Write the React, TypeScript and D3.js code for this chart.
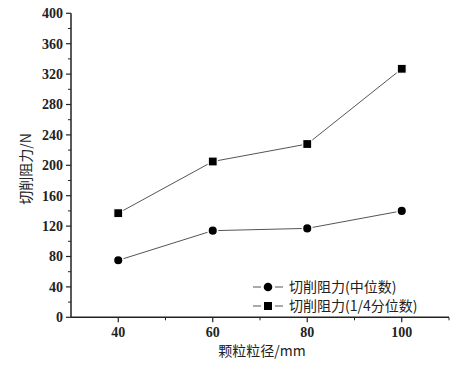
import React from "react";
import * as d3 from "d3";

const particleSizes = [40, 60, 80, 100];
const medianForce = [75, 114, 117, 140];
const quarterForce = [137, 205, 228, 327];
const yTicks = [0, 40, 80, 120, 160, 200, 240, 280, 320, 360, 400];
const xTicks = [40, 60, 80, 100];
const seriesNames = ["切削阻力(中位数)", "切削阻力(1/4分位数)"];
const xTitle = "颗粒粒径/mm";
const yTitle = "切削阻力/N";

const W = 459, H = 366;
const M = { left: 71, right: 10, top: 13.3, bottom: 48.7 };

export default function App() {
  const x = d3.scaleLinear().domain([30, 110]).range([M.left, W - M.right]);
  const y = d3.scaleLinear().domain([0, 400]).range([H - M.bottom, M.top]);
  const line = d3.line<number>().x((_, i) => x(particleSizes[i])).y((d) => y(d));
  const numFont = "'Liberation Serif', 'DejaVu Serif', serif";
  const cjkFont = "'Noto Sans CJK SC', sans-serif";
  const yMinor = d3.range(20, 400, 40);
  const xMinor = [50, 70, 90, 110];
  const x0 = M.left, yb = H - M.bottom;
  return (
    <svg width={W} height={H} style={{ position: "absolute", left: 0, top: 0, background: "#fff" }}>
      <rect width={W} height={H} fill="#fff" />
      {/* axes */}
      <line x1={x0} x2={x0} y1={M.top} y2={yb} stroke="#222" strokeWidth={1.5} />
      <line x1={x0} x2={W - M.right} y1={yb} y2={yb} stroke="#222" strokeWidth={1.5} />
      {yTicks.map((t) => (
        <g key={"y" + t}>
          <line x1={x0 - 5} x2={x0} y1={y(t)} y2={y(t)} stroke="#222" strokeWidth={1.2} />
          <text x={x0 - 8} y={y(t)} dy="0.35em" textAnchor="end" fontFamily={numFont} fontWeight="bold" fontSize={14} fill="#222">{t}</text>
        </g>
      ))}
      {yMinor.map((t) => (
        <line key={"ym" + t} x1={x0 - 3} x2={x0} y1={y(t)} y2={y(t)} stroke="#222" strokeWidth={1} />
      ))}
      {xTicks.map((t) => (
        <g key={"x" + t}>
          <line x1={x(t)} x2={x(t)} y1={yb} y2={yb + 5} stroke="#222" strokeWidth={1.2} />
          <text x={x(t)} y={yb + 20} textAnchor="middle" fontFamily={numFont} fontWeight="bold" fontSize={14} fill="#222">{t}</text>
        </g>
      ))}
      {xMinor.map((t) => (
        <line key={"xm" + t} x1={x(t)} x2={x(t)} y1={yb} y2={yb + 3} stroke="#222" strokeWidth={1} />
      ))}
      {/* series */}
      <path d={line(medianForce) || ""} fill="none" stroke="#555" strokeWidth={1} />
      <path d={line(quarterForce) || ""} fill="none" stroke="#555" strokeWidth={1} />
      {medianForce.map((v, i) => (
        <circle key={"c" + i} cx={x(particleSizes[i])} cy={y(v)} r={4.8} fill="#000" stroke="#fff" strokeWidth={1.5} />
      ))}
      {quarterForce.map((v, i) => (
        <rect key={"s" + i} x={x(particleSizes[i]) - 4.5} y={y(v) - 4.5} width={9} height={9} fill="#000" stroke="#fff" strokeWidth={1.2} />
      ))}
      {/* legend */}
      {seriesNames.map((name, i) => {
        const ly = 287 + i * 19;
        return (
          <g key={"l" + i}>
            <line x1={253} x2={261} y1={ly} y2={ly} stroke="#555" strokeWidth={1} />
            <line x1={275} x2={283} y1={ly} y2={ly} stroke="#555" strokeWidth={1} />
            {i === 0 ? (
              <circle cx={268} cy={ly} r={4.3} fill="#000" />
            ) : (
              <rect x={264} y={ly - 4} width={8} height={8} fill="#000" />
            )}
            <text x={289} y={ly} dy="0.36em" fontFamily={cjkFont} fontSize={14} fill="#222">{name}</text>
          </g>
        );
      })}
      {/* titles */}
      <text x={262} y={356} textAnchor="middle" fontFamily={cjkFont} fontSize={14} fill="#222">{xTitle}</text>
      <text transform={`translate(31,169) rotate(-90)`} textAnchor="middle" fontFamily={cjkFont} fontSize={14} fill="#222">{yTitle}</text>
    </svg>
  );
}
